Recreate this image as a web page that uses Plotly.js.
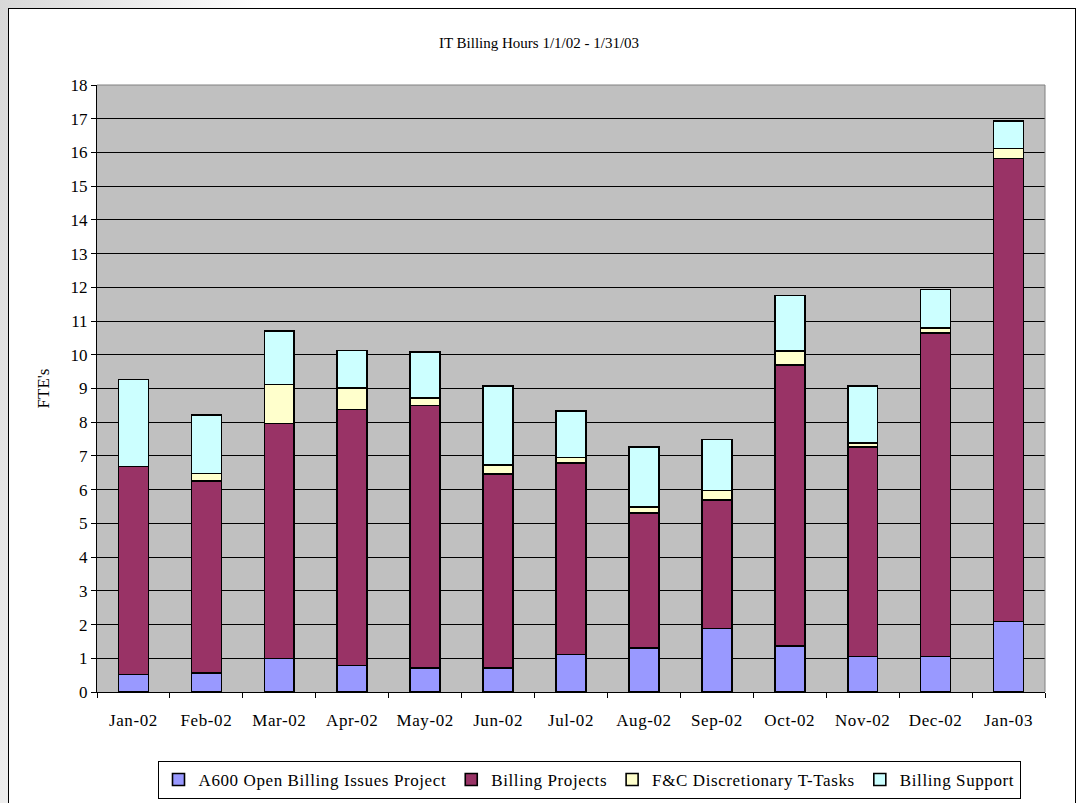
<!DOCTYPE html>
<html>
<head>
<meta charset="utf-8">
<script src="https://cdn.plot.ly/plotly-3.0.1.min.js"></script>
<style>
  html, body { margin: 0; padding: 0; }
  body { width: 1078px; height: 803px; overflow: hidden; position: relative;
         background: linear-gradient(100deg, #d8d8d8 0px, #ffffff 260px); }
  #chart { position: absolute; left: 0; top: 0; width: 1078px; height: 803px; }
  #frame { position: absolute; left: 8px; top: 8px; width: 1066px; height: 820px;
           border: 1.5px solid #000; background: #fff; }
  .legendtext, .xtick text { letter-spacing: 0.6px; }
</style>
</head>
<body>
<div id="frame"></div>
<div id="chart"></div>
<script>
const months = ["Jan-02","Feb-02","Mar-02","Apr-02","May-02","Jun-02","Jul-02","Aug-02","Sep-02","Oct-02","Nov-02","Dec-02","Jan-03"];
const seriesNames = ["A600 Open Billing Issues Project","Billing Projects","F&C Discretionary T-Tasks","Billing Support"];
const a600 = [0.52, 0.57, 0.99, 0.79, 0.72, 0.72, 1.11, 1.30, 1.88, 1.36, 1.05, 1.05, 2.09];
const billingProjects = [6.17, 5.69, 6.97, 7.59, 7.78, 5.75, 5.68, 4.01, 3.81, 8.33, 6.21, 9.59, 13.73];
const fcTasks = [0.00, 0.22, 1.16, 0.63, 0.22, 0.27, 0.16, 0.17, 0.28, 0.43, 0.13, 0.16, 0.30];
const billingSupport = [2.58, 1.74, 1.59, 1.12, 1.37, 2.33, 1.39, 1.79, 1.52, 1.64, 1.68, 1.13, 0.82];
const yTicks = [0,1,2,3,4,5,6,7,8,9,10,11,12,13,14,15,16,17,18];

const colors = ["#9999FF", "#993366", "#FFFFCC", "#CCFFFF"];
const values = [a600, billingProjects, fcTasks, billingSupport];

const traces = values.map((v, i) => ({
  type: "bar",
  name: seriesNames[i],
  x: months,
  y: v,
  marker: { color: colors[i], line: { color: "#000", width: 1.6 } },
  hoverinfo: "x+y+name"
}));

const font = "Liberation Serif, Times New Roman, serif";
const layout = {
  width: 1078, height: 803,
  margin: { l: 97, r: 33, t: 85, b: 111, autoexpand: false },
  paper_bgcolor: "rgba(0,0,0,0)",
  plot_bgcolor: "#C0C0C0",
  barmode: "stack",
  bargap: 0.59,
  font: { family: font, size: 17, color: "#000" },
  title: { text: "IT Billing Hours 1/1/02 - 1/31/03", font: { family: font, size: 15, color: "#000" },
           x: 0.5, xanchor: "center", xref: "container", y: 1 - 43/803, yanchor: "middle" },
  xaxis: {
    type: "category",
    tickson: "boundaries",
    tickangle: 0,
    ticks: "outside", ticklen: 5, tickcolor: "#000", tickwidth: 1,
    ticklabelstandoff: 13,
    showline: true, linecolor: "#000", linewidth: 1,
    showgrid: false,
    tickfont: { family: font, size: 17 },
    fixedrange: true
  },
  yaxis: {
    range: [0, 18],
    tickvals: yTicks,
    ticktext: yTicks.map(String),
    ticks: "outside", ticklen: 5, tickcolor: "#000", tickwidth: 1,
    showline: true, linecolor: "#000", linewidth: 1,
    showgrid: true, gridcolor: "#000", gridwidth: 1,
    zeroline: false,
    tickfont: { family: font, size: 17 },
    title: { text: "FTE's", font: { family: font, size: 17 }, standoff: 16 },
    fixedrange: true
  },
  shapes: [
    { type: "line", xref: "paper", yref: "paper", x0: 0, x1: 1, y0: 1, y1: 1, line: { color: "#808080", width: 1 } },
    { type: "line", xref: "paper", yref: "paper", x0: 1, x1: 1, y0: 0, y1: 1, line: { color: "#808080", width: 1 } }
  ],
  legend: {
    orientation: "h",
    x: (589 - 97) / 948, xanchor: "center",
    y: -(761 - 692) / 607, yanchor: "top",
    bordercolor: "#000", borderwidth: 1, bgcolor: "#fff",
    font: { family: font, size: 17 },
    itemwidth: 30,
    traceorder: "normal",
    tracegroupgap: 0
  },
  showlegend: true
};

Plotly.newPlot("chart", traces, layout, { displayModeBar: false, staticPlot: true });
</script>
</body>
</html>
